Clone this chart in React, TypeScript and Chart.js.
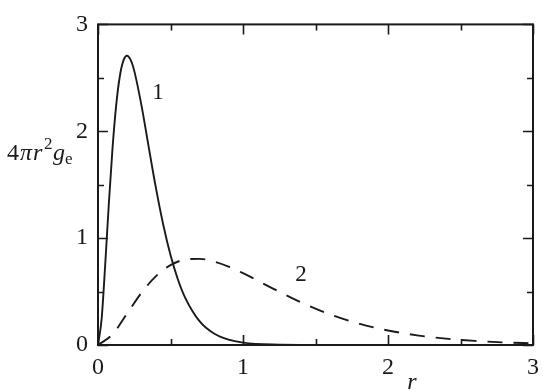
import React, { useEffect, useRef } from "react";
import { Chart, registerables } from "chart.js";

Chart.register(...registerables);

// Curve 1 (solid): r values and 4πr²g_e values
const r1: number[] = [0, 0.025, 0.05, 0.075, 0.1, 0.125, 0.15, 0.175, 0.2, 0.225, 0.25, 0.3, 0.35, 0.4, 0.45, 0.5, 0.55, 0.6, 0.7, 0.8, 0.9, 1.0, 1.2, 1.5, 2.0, 3.0];
const g1: number[] = [0, 0.243, 0.758, 1.329, 1.839, 2.238, 2.51, 2.661, 2.707, 2.668, 2.565, 2.24, 1.85, 1.465, 1.125, 0.842, 0.618, 0.446, 0.223, 0.107, 0.05, 0.0227, 0.0044, 0.0003, 0, 0];

// Curve 2 (dashed)
const r2: number[] = [0, 0.1, 0.2, 0.3, 0.4, 0.5, 0.6, 0.7, 0.8, 0.9, 1.0, 1.2, 1.4, 1.6, 1.8, 2.0, 2.2, 2.4, 2.6, 2.8, 3.0];
const g2: number[] = [0, 0.099, 0.293, 0.489, 0.645, 0.747, 0.799, 0.806, 0.781, 0.734, 0.672, 0.533, 0.399, 0.287, 0.2, 0.136, 0.0905, 0.0593, 0.0383, 0.0244, 0.0154];

const xMin = 0, xMax = 3, yMin = 0, yMax = 3;
const tickStep = 0.5;

// curve labels: [text, r, value]
const curveLabels: [string, number, number][] = [
  ["1", 0.414, 2.36],
  ["2", 1.4, 0.66],
];

const SERIF = '"Liberation Serif", "Times New Roman", serif';
const INK = "#1a1a1a";

const framePlugin = {
  id: "frame",
  afterDraw(chart: any) {
    const { ctx, chartArea: a, scales } = chart;
    const xs = scales.x, ys = scales.y;
    ctx.save();
    ctx.strokeStyle = INK;
    ctx.lineWidth = 2;
    ctx.strokeRect(a.left, a.top, a.right - a.left, a.bottom - a.top);
    ctx.lineWidth = 1.6;
    const major = 10, minor = 6;
    for (let v = xMin; v <= xMax + 1e-9; v += tickStep) {
      const px = Math.round(xs.getPixelForValue(v)) + 0.5;
      const L = Math.abs(v - Math.round(v)) < 1e-9 ? major : minor;
      ctx.beginPath();
      ctx.moveTo(px, a.bottom); ctx.lineTo(px, a.bottom - L);
      ctx.moveTo(px, a.top); ctx.lineTo(px, a.top + L);
      ctx.stroke();
    }
    for (let v = yMin; v <= yMax + 1e-9; v += tickStep) {
      const py = Math.round(ys.getPixelForValue(v)) + 0.5;
      const L = Math.abs(v - Math.round(v)) < 1e-9 ? major : minor;
      ctx.beginPath();
      ctx.moveTo(a.left, py); ctx.lineTo(a.left + L, py);
      ctx.moveTo(a.right, py); ctx.lineTo(a.right - L, py);
      ctx.stroke();
    }
    ctx.fillStyle = INK;
    // curve labels
    ctx.font = `23px ${SERIF}`;
    ctx.textAlign = "center";
    ctx.textBaseline = "middle";
    for (const [t, r, v] of curveLabels) {
      ctx.fillText(t, xs.getPixelForValue(r), ys.getPixelForValue(v));
    }
    // x axis label
    ctx.font = `italic 24px ${SERIF}`;
    ctx.textBaseline = "alphabetic";
    ctx.fillText("r", 412, 389);
    // y axis label 4πr²g_e
    ctx.textAlign = "left";
    const base = 160;
    const part = (t: string, font: string, x: number, dy: number) => {
      ctx.font = font;
      ctx.fillText(t, x, base + dy);
    };
    part("4", `24px ${SERIF}`, 7, 0);
    part("π", `italic 24px ${SERIF}`, 20, 0);
    part("r", `italic 24px ${SERIF}`, 33, 0);
    part("2", `17px ${SERIF}`, 44, -11);
    part("g", `italic 24px ${SERIF}`, 53, 0);
    part("e", `17px ${SERIF}`, 65, 4);
    ctx.restore();
  },
};

export default function App() {
  const ref = useRef<HTMLCanvasElement | null>(null);
  useEffect(() => {
    document.body.style.margin = "0";
    const canvas = ref.current!;
    const chart = new Chart(canvas, {
      type: "line",
      data: {
        datasets: [
          {
            data: r1.map((r, i) => ({ x: r, y: g1[i] })),
            borderColor: INK,
            borderWidth: 1.9,
            pointRadius: 0,
            cubicInterpolationMode: "monotone",
            fill: false,
          },
          {
            data: r2.map((r, i) => ({ x: r, y: g2[i] })),
            borderColor: INK,
            borderWidth: 1.9,
            borderDash: [15, 11],
            pointRadius: 0,
            cubicInterpolationMode: "monotone",
            fill: false,
          },
        ],
      },
      options: {
        responsive: false,
        animation: false,
        layout: { padding: { left: 0, top: 20, right: 17, bottom: 0 } },
        plugins: { legend: { display: false }, tooltip: { enabled: false } },
        scales: {
          x: {
            type: "linear",
            min: xMin,
            max: xMax,
            grid: { display: false, drawTicks: false },
            border: { display: false },
            ticks: {
              stepSize: tickStep,
              autoSkip: false,
              maxRotation: 0,
              padding: 8,
              color: INK,
              font: { family: SERIF, size: 24 },
              callback: (v: any) => (Math.abs(v - Math.round(v)) < 1e-9 ? String(Math.round(v)) : ""),
            },
            afterFit: (s: any) => { s.height = 47; },
          },
          y: {
            type: "linear",
            min: yMin,
            max: yMax,
            grid: { display: false, drawTicks: false },
            border: { display: false },
            ticks: {
              stepSize: tickStep,
              autoSkip: false,
              padding: 10,
              color: INK,
              font: { family: SERIF, size: 24 },
              callback: (v: any) => (Math.abs(v - Math.round(v)) < 1e-9 ? String(Math.round(v)) : ""),
            },
            afterFit: (s: any) => { s.width = 98; },
          },
        },
      },
      plugins: [framePlugin],
    } as any);
    return () => chart.destroy();
  }, []);
  return <canvas ref={ref} width={550} height={392} style={{ display: "block" }} />;
}
